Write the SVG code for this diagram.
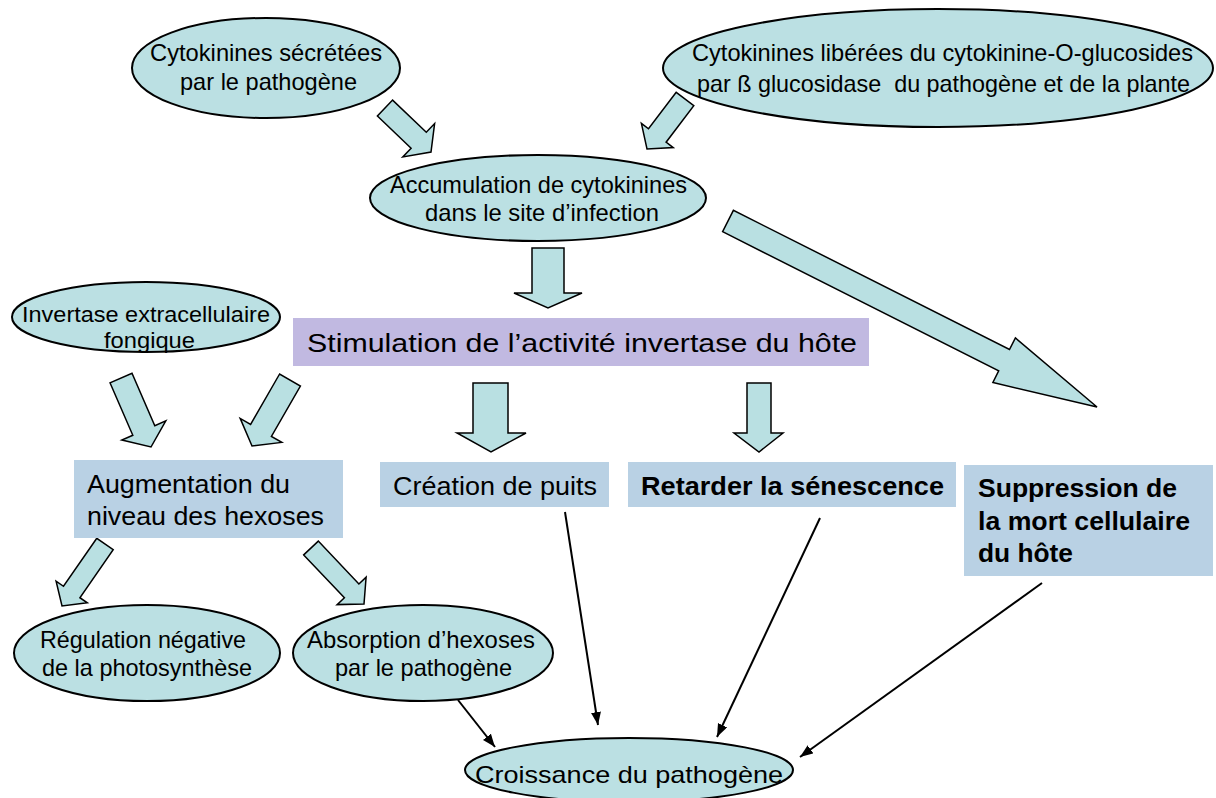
<svg xmlns="http://www.w3.org/2000/svg" width="1216" height="798" viewBox="0 0 1216 798">
<style>
.ell{fill:#bbe0e3;stroke:#000;stroke-width:2}
.box{fill:#b9d1e4}
.stim{fill:#c1b9e1}
.blk{fill:#b9e0e2;stroke:#000;stroke-width:1.5;stroke-linejoin:miter}
.ln{stroke:#000;stroke-width:2;fill:none}
text{font-family:"Liberation Sans",Arial,sans-serif;fill:#000}
.te{font-size:24px}
.ts{font-size:22px}
.tb{font-size:25px}
.bold{font-weight:bold}
</style>
<defs>
<marker id="ah" markerUnits="userSpaceOnUse" markerWidth="14" markerHeight="12" refX="13" refY="5" orient="auto">
<path d="M0,0 L13,5 L0,10 Z" fill="#000"/>
</marker>
</defs>
<rect width="1216" height="798" fill="#fff"/>

<g id="connectors">
<polygon class="blk" points="377.4,116 411.1,148.2 402.8,156.9 431,152 434.6,123.6 426.3,132.3 392.6,100.1"/>
<polygon class="blk" points="676.2,92.3 648.5,128.8 641.4,123.4 647,149 673.2,147.6 666.1,142.2 693.8,105.7"/>
<polygon class="blk" points="532,248 564,248 564,293 582,293 548,308 514,293 532,293"/>
<polygon class="blk" points="722.6,231.7 998.7,370.9 992.9,382.5 1097,407 1015.4,337.9 1009.5,349.5 733.4,210.3"/>
<polygon class="blk" points="110,382.8 132.8,435.3 121.8,440.1 151,447 165.8,420.9 154.8,425.7 132,373.2"/>
<polygon class="blk" points="279.6,374 250.6,424.4 240.2,418.4 252,446 281.8,442.4 271.4,436.4 300.4,386"/>
<polygon class="blk" points="473,383 508,383 508,433 526,433 491,452 457,433 473,433"/>
<polygon class="blk" points="747,383 771,383 771,433 783,433 759,452 734,433 747,433"/>
<polygon class="blk" points="96.8,538.3 63.5,586.3 56.1,581.2 62,606 87.3,602.8 79.9,597.7 113.2,549.7"/>
<polygon class="blk" points="303.7,554.9 344.4,597.8 337.1,604.6 364,604 366.1,577.2 358.9,584 318.3,541.1"/>
<line class="ln" x1="458" y1="700" x2="495" y2="747" marker-end="url(#ah)"/>
<line class="ln" x1="565" y1="512" x2="598" y2="725" marker-end="url(#ah)"/>
<line class="ln" x1="820" y1="518" x2="717" y2="737" marker-end="url(#ah)"/>
<line class="ln" x1="1042" y1="583" x2="800" y2="757" marker-end="url(#ah)"/>
</g>

<g id="n1">
<ellipse class="ell" cx="266" cy="68" rx="134" ry="50"/>
<text class="te" x="150" y="61" textLength="232" lengthAdjust="spacingAndGlyphs">Cytokinines sécrétées</text>
<text class="te" x="180" y="90" textLength="177" lengthAdjust="spacingAndGlyphs">par le pathogène</text>
</g>
<g id="n2">
<ellipse class="ell" cx="938" cy="68" rx="275" ry="59"/>
<text class="te" x="692" y="61" textLength="501" lengthAdjust="spacingAndGlyphs">Cytokinines libérées du cytokinine-O-glucosides</text>
<text class="te" x="697" y="92" textLength="493" lengthAdjust="spacingAndGlyphs" xml:space="preserve">par ß glucosidase  du pathogène et de la plante</text>
</g>
<g id="n3">
<ellipse class="ell" cx="538" cy="198" rx="168" ry="43"/>
<text class="te" x="390" y="193" textLength="297" lengthAdjust="spacingAndGlyphs">Accumulation de cytokinines</text>
<text class="te" x="425" y="221" textLength="234" lengthAdjust="spacingAndGlyphs">dans le site d’infection</text>
</g>
<g id="n4">
<ellipse class="ell" cx="146" cy="317" rx="134" ry="35"/>
<text class="ts" x="22" y="322" textLength="248" lengthAdjust="spacingAndGlyphs">Invertase extracellulaire</text>
<text class="ts" x="104" y="348" textLength="91" lengthAdjust="spacingAndGlyphs">fongique</text>
</g>
<g id="n5">
<rect class="stim" x="293" y="318" width="576" height="48"/>
<text class="tb" x="307" y="352" textLength="550" lengthAdjust="spacingAndGlyphs">Stimulation de l’activité invertase du hôte</text>
</g>
<g id="n6">
<rect class="box" x="74" y="460" width="269" height="78"/>
<text class="tb" x="87" y="493" textLength="203" lengthAdjust="spacingAndGlyphs">Augmentation du</text>
<text class="tb" x="87" y="525" textLength="237" lengthAdjust="spacingAndGlyphs">niveau des hexoses</text>
</g>
<g id="n7">
<rect class="box" x="380" y="462" width="229" height="45"/>
<text class="tb" x="393" y="495" textLength="204" lengthAdjust="spacingAndGlyphs">Création de puits</text>
</g>
<g id="n8">
<rect class="box" x="628" y="462" width="328" height="45"/>
<text class="tb bold" x="641" y="495" textLength="303" lengthAdjust="spacingAndGlyphs">Retarder la sénescence</text>
</g>
<g id="n9">
<rect class="box" x="964" y="465" width="249" height="111"/>
<text class="tb bold" x="978" y="497" textLength="199" lengthAdjust="spacingAndGlyphs">Suppression de</text>
<text class="tb bold" x="978" y="530" textLength="212" lengthAdjust="spacingAndGlyphs">la mort cellulaire</text>
<text class="tb bold" x="978" y="562" textLength="95" lengthAdjust="spacingAndGlyphs">du hôte</text>
</g>
<g id="n10">
<ellipse class="ell" cx="147" cy="653" rx="133" ry="48"/>
<text class="te" x="40" y="648" textLength="206" lengthAdjust="spacingAndGlyphs">Régulation négative</text>
<text class="te" x="42" y="676" textLength="210" lengthAdjust="spacingAndGlyphs">de la photosynthèse</text>
</g>
<g id="n11">
<ellipse class="ell" cx="423" cy="653" rx="130" ry="48"/>
<text class="te" x="307" y="648" textLength="228" lengthAdjust="spacingAndGlyphs">Absorption d’hexoses</text>
<text class="te" x="335" y="676" textLength="177" lengthAdjust="spacingAndGlyphs">par le pathogène</text>
</g>
<g id="n12">
<ellipse class="ell" cx="629" cy="770" rx="164" ry="32"/>
<text class="te" x="475" y="783" textLength="308" lengthAdjust="spacingAndGlyphs">Croissance du pathogène</text>
</g>
</svg>
